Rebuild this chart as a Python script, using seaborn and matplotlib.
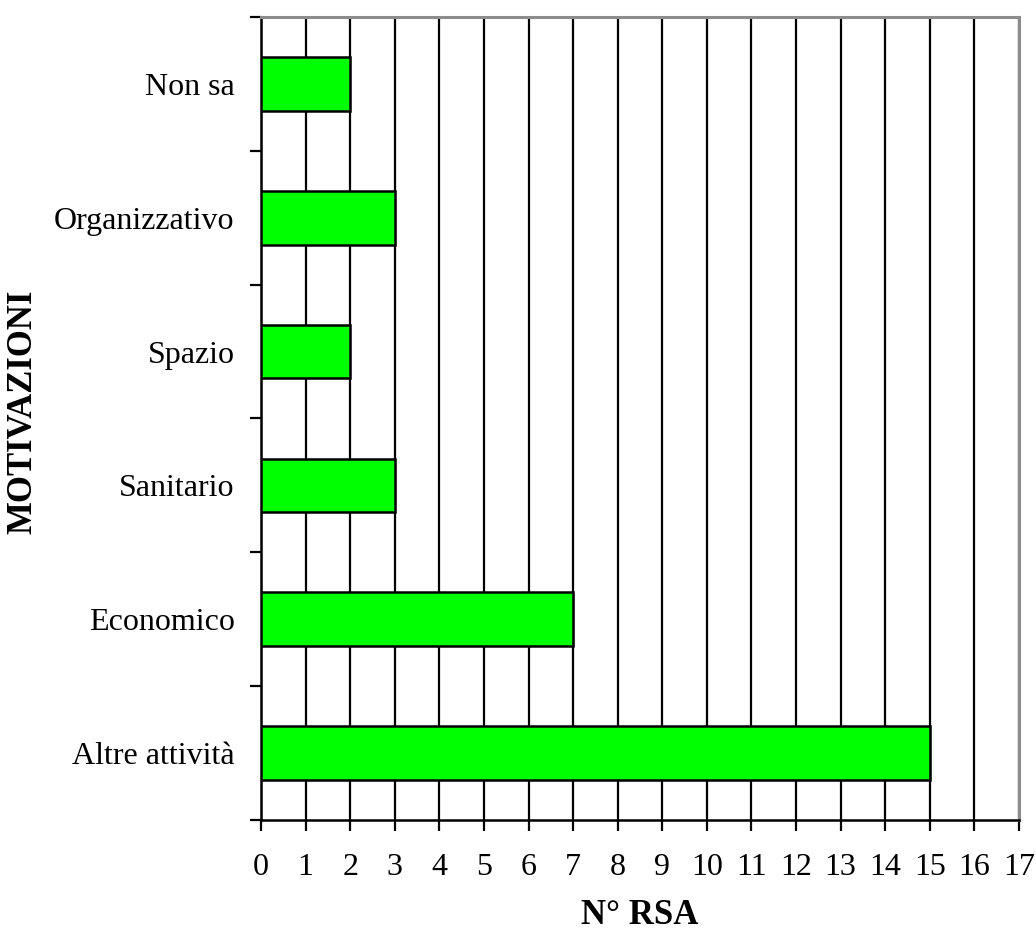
import numpy as np
import pandas as pd
import matplotlib
matplotlib.use('Agg')
import matplotlib.pyplot as plt
from matplotlib.ticker import FixedLocator
import seaborn as sns

categories = ['Non sa', 'Organizzativo', 'Spazio', 'Sanitario', 'Economico', 'Altre attività']
counts = [2, 3, 2, 3, 7, 15]
x_ticks = list(range(0, 18))

df = pd.DataFrame({'motivazione': categories, 'n_rsa': counts})

sns.set_style('white')
plt.rcParams['font.family'] = ['Liberation Serif', 'DejaVu Serif']
plt.rcParams['text.color'] = 'black'
plt.rcParams['axes.labelcolor'] = 'black'
plt.rcParams['xtick.color'] = 'black'
plt.rcParams['ytick.color'] = 'black'

fig = plt.figure(figsize=(10.36, 9.34), dpi=100)
ax = fig.add_axes([0.2519, 0.1221, 0.7317, 0.8597])

sns.barplot(data=df, y='motivazione', x='n_rsa', orient='h', order=categories,
            color='#00FF00', saturation=1, edgecolor='black', linewidth=1.8,
            width=0.4, ax=ax, zorder=3)

ax.set_xlim(0, 17)
ax.set_ylim(len(categories) - 0.5, -0.5)
ax.set_xticks(x_ticks)
ax.set_xticklabels([str(t) for t in x_ticks], fontsize=23)
ax.xaxis.grid(True, color='black', linewidth=1.6, zorder=0)
ax.set_axisbelow(True)

ax.yaxis.set_minor_locator(FixedLocator(np.arange(-0.5, len(categories), 1.0)))
ax.tick_params(axis='y', which='major', length=0, labelsize=23, pad=19)
ax.tick_params(axis='y', which='minor', length=8, width=1.6, direction='out', left=True)
ax.tick_params(axis='x', which='major', length=8, width=1.6, direction='out', bottom=True, pad=16)

for side in ['left', 'bottom']:
    ax.spines[side].set_color('black')
    ax.spines[side].set_linewidth(1.8)
for side in ['top', 'right']:
    ax.spines[side].set_color('#8c8c8c')
    ax.spines[side].set_linewidth(2.2)

ax.set_xlabel('N° RSA', fontsize=25, fontweight='bold', labelpad=12)
ax.set_ylabel('MOTIVAZIONI', fontsize=25, fontweight='bold')
ax.yaxis.set_label_coords(-0.292, 0.508)

plt.savefig('out.png', dpi=100)
plt.close()
